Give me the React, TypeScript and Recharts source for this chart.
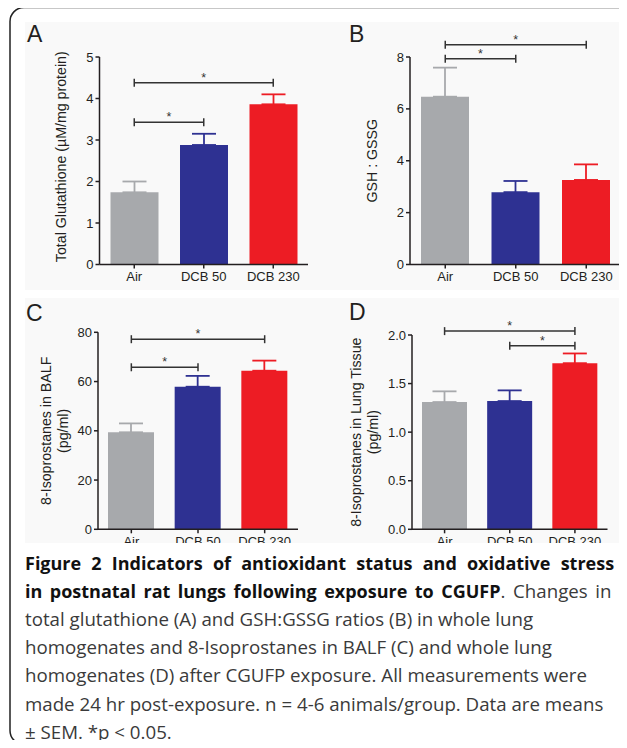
import React from "react";
import { Bar, BarChart, ErrorBar, ReferenceLine, XAxis, YAxis } from "recharts";

// Figure 2 — four Prism-style bar panels (mean ± SEM) + caption
const GRAY = "#a7a9ac";
const BLUE = "#2e3192";
const RED = "#ed1c24";
const INK = "#231f20";
const PANEL_BG = "#f9f9f9";
const FONT = "'Liberation Sans', Arial, sans-serif";

const groups = ["Air", "DCB 50", "DCB 230"];
const seriesKeys = ["air", "dcb50", "dcb230"];
const seriesColors = [GRAY, BLUE, RED];

// A: total glutathione
const glutathioneMean = [1.74, 2.88, 3.86];
const glutathioneSem = [0.26, 0.27, 0.24];
const glutathioneTicks = [0, 1, 2, 3, 4, 5];
const glutathioneSig: [string, string, number][] = [
  ["Air", "DCB 50", 3.43],
  ["Air", "DCB 230", 4.38],
];

// B: GSH : GSSG
const ratioMean = [6.47, 2.79, 3.26];
const ratioSem = [1.12, 0.43, 0.6];
const ratioTicks = [0, 2, 4, 6, 8];
const ratioSig: [string, string, number][] = [
  ["Air", "DCB 50", 7.93],
  ["Air", "DCB 230", 8.47],
];

// C: 8-isoprostanes in BALF
const balfMean = [39.4, 57.9, 64.4];
const balfSem = [3.6, 4.4, 4.1];
const balfTicks = [0, 20, 40, 60, 80];
const balfSig: [string, string, number][] = [
  ["Air", "DCB 50", 65.8],
  ["Air", "DCB 230", 77.2],
];

// D: 8-isoprostanes in lung tissue
const tissueMean = [1.31, 1.32, 1.71];
const tissueSem = [0.11, 0.11, 0.1];
const tissueTicks = [0, 0.5, 1, 1.5, 2];
const tissueSig: [string, string, number][] = [
  ["DCB 50", "DCB 230", 1.89],
  ["Air", "DCB 230", 2.04],
];

// caption, one entry per printed line (first two lines are set justified)
const captionLines: { text: string; bold?: boolean }[][] = [
  [{ text: "Figure 2 Indicators of antioxidant status and oxidative stress", bold: true }],
  [
    { text: "in postnatal rat lungs following exposure to CGUFP", bold: true },
    { text: ". Changes in" },
  ],
  [{ text: "total glutathione (A) and GSH:GSSG ratios (B) in whole lung" }],
  [{ text: "homogenates and 8-Isoprostanes in BALF (C) and whole lung" }],
  [{ text: "homogenates (D) after CGUFP exposure. All measurements were" }],
  [{ text: "made 24 hr post-exposure. n = 4-6 animals/group. Data are means" }],
  [{ text: "± SEM. *p < 0.05." }],
];
const captionWordSpacing = [5.5, 2.8, 0, 0, 0, 0, 0];

type Box = { left: number; top: number; width: number; height: number };
type Plot = { left: number; right: number; top: number; bottom: number };

function buildRows(means: number[], sems: number[]) {
  return groups.map((g, i) => ({
    group: g,
    [seriesKeys[i]]: means[i],
    [seriesKeys[i] + "Err"]: [0, sems[i]],
  }));
}

function Bracket(props: any) {
  const { x1, y1, x2 } = props;
  return (
    <g>
      <line x1={x1} y1={y1} x2={x2} y2={y1} stroke="#333" strokeWidth={1.5} />
      <line x1={x1} y1={y1 - 4} x2={x1} y2={y1 + 4} stroke="#333" strokeWidth={1.5} />
      <line x1={x2} y1={y1 - 4} x2={x2} y2={y1 + 4} stroke="#333" strokeWidth={1.5} />
      <text x={(x1 + x2) / 2} y={y1 - 1} textAnchor="middle" fontSize={12.5} fontFamily={FONT} fill="#333">
        *
      </text>
    </g>
  );
}

function AxisTitle(props: any) {
  const { viewBox, lines, shift } = props;
  const midY = viewBox.y + viewBox.height / 2 + (shift || 0);
  return (
    <g>
      {lines.map((l: { text: string; cx: number }, i: number) => (
        <text
          key={i}
          x={l.cx}
          y={midY}
          transform={`rotate(-90, ${l.cx}, ${midY})`}
          textAnchor="middle"
          dominantBaseline="central"
          fontSize={14.2}
          fontFamily={FONT}
          fill={INK}
        >
          {l.text}
        </text>
      ))}
    </g>
  );
}

function Panel({
  box,
  plot,
  means,
  sems,
  ticks,
  sig,
  title,
  shift,
  barSize,
  fmt,
}: {
  box: Box;
  plot: Plot;
  means: number[];
  sems: number[];
  ticks: number[];
  sig: [string, string, number][];
  title: { text: string; cx: number }[];
  shift?: number;
  barSize: number;
  fmt?: (v: number) => string;
}) {
  const data = buildRows(means, sems);
  const margin = {
    top: plot.top - box.top,
    right: box.left + box.width - plot.right,
    bottom: 0,
    left: 0,
  };
  const lines = title.map((t) => ({ text: t.text, cx: t.cx - box.left }));
  return (
    <div
      style={{
        position: "absolute",
        left: box.left,
        top: box.top,
        width: box.width,
        height: box.height,
        overflow: "hidden",
      }}
    >
      <BarChart width={box.width} height={box.height} data={data} margin={margin} barSize={barSize}>
        <XAxis
          dataKey="group"
          height={box.top + box.height - plot.bottom}
          interval={0}
          axisLine={{ stroke: INK, strokeWidth: 1.5 }}
          tickLine={{ stroke: INK, strokeWidth: 1.5 }}
          tickSize={4}
          tickMargin={3}
          tick={{ fill: INK, fontSize: 13, fontFamily: FONT }}
        />
        <YAxis
          type="number"
          domain={[0, ticks[ticks.length - 1]]}
          ticks={ticks}
          interval={0}
          width={plot.left - box.left}
          axisLine={{ stroke: INK, strokeWidth: 1.5 }}
          tickLine={{ stroke: INK, strokeWidth: 1.5 }}
          tickSize={4}
          tickMargin={2}
          tick={{ fill: INK, fontSize: 13, fontFamily: FONT }}
          tickFormatter={fmt}
          label={(p: any) => <AxisTitle {...p} lines={lines} shift={shift} />}
        />
        {seriesKeys.map((k, i) => (
          <Bar key={k} dataKey={k} stackId="s" fill={seriesColors[i]} isAnimationActive={false}>
            <ErrorBar
              dataKey={k + "Err"}
              direction="y"
              width={12}
              strokeWidth={1.8}
              stroke={seriesColors[i]}
            />
          </Bar>
        ))}
        {sig.map(([a, b, y], i) => (
          <ReferenceLine
            key={i}
            segment={[
              { x: a, y },
              { x: b, y },
            ]}
            ifOverflow="visible"
            shape={Bracket}
          />
        ))}
      </BarChart>
    </div>
  );
}

export default function App() {
  return (
    <div
      style={{
        position: "relative",
        width: 627,
        height: 748,
        margin: -8,
        overflow: "hidden",
        background: "#fff",
      }}
    >
      <svg width={627} height={748} style={{ position: "absolute", left: 0, top: 0 }}>
        <rect x={25} y={22} width={300} height={268} fill={PANEL_BG} />
        <rect x={325} y={22} width={297} height={268} fill={PANEL_BG} />
        <rect x={25} y={298} width={300} height={245} fill={PANEL_BG} />
        <rect x={325} y={298} width={297} height={245} fill={PANEL_BG} />
        <rect x={10} y={7.5} width={700} height={737} rx={14} fill="none" stroke="#222" strokeWidth={1.5} />
        <g fontFamily={FONT} fontSize={23} fill={INK}>
          <text x={27} y={42}>A</text>
          <text x={349} y={42}>B</text>
          <text x={26} y={321}>C</text>
          <text x={349} y={320}>D</text>
        </g>
        <g fontFamily="'Open Sans', sans-serif">
          {captionLines.map((line, i) => (
            <text key={i} x={25} y={570 + i * 28.1} wordSpacing={captionWordSpacing[i]}>
              {line.map((s, j) => (
                <tspan
                  key={j}
                  fontWeight={s.bold ? 700 : 400}
                  fontSize={s.bold ? 18 : 18.7}
                  fill={s.bold ? "#111" : "#3a3a3a"}
                >
                  {s.text}
                </tspan>
              ))}
            </text>
          ))}
        </g>
      </svg>
      <Panel
        box={{ left: 25, top: 22, width: 290, height: 268 }}
        plot={{ left: 99.5, right: 308, top: 57, bottom: 264.5 }}
        means={glutathioneMean}
        sems={glutathioneSem}
        ticks={glutathioneTicks}
        sig={glutathioneSig}
        title={[{ text: "Total Glutathione (µM/mg protein)", cx: 60.5 }]}
        shift={-4}
        barSize={48}
      />
      <Panel
        box={{ left: 318, top: 22, width: 305, height: 268 }}
        plot={{ left: 410, right: 621.5, top: 57, bottom: 264.5 }}
        means={ratioMean}
        sems={ratioSem}
        ticks={ratioTicks}
        sig={ratioSig}
        title={[{ text: "GSH : GSSG", cx: 371.5 }]}
        barSize={48}
      />
      <Panel
        box={{ left: 25, top: 298, width: 290, height: 245 }}
        plot={{ left: 98, right: 298, top: 332.3, bottom: 529.3 }}
        means={balfMean}
        sems={balfSem}
        ticks={balfTicks}
        sig={balfSig}
        title={[
          { text: "8-Isoprostanes in BALF", cx: 46 },
          { text: "(pg/ml)", cx: 62.7 },
        ]}
        barSize={46}
      />
      <Panel
        box={{ left: 318, top: 298, width: 305, height: 245 }}
        plot={{ left: 412, right: 607.5, top: 335, bottom: 529.3 }}
        means={tissueMean}
        sems={tissueSem}
        ticks={tissueTicks}
        sig={tissueSig}
        title={[
          { text: "8-Isoprostanes in Lung Tissue", cx: 356.5 },
          { text: "(pg/ml)", cx: 373.3 },
        ]}
        barSize={45}
        fmt={(v) => v.toFixed(1)}
      />
    </div>
  );
}
